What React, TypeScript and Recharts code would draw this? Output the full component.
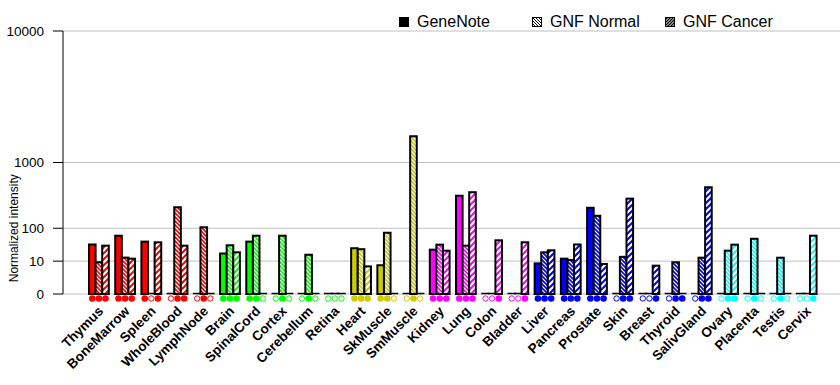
import { Bar, BarChart, CartesianGrid, Legend, XAxis, YAxis } from "recharts";

const tissues = [
  "Thymus", "BoneMarrow", "Spleen", "WholeBlood", "LymphNode",
  "Brain", "SpinalCord", "Cortex", "Cerebellum", "Retina",
  "Heart", "SkMuscle", "SmMuscle",
  "Kidney", "Lung", "Colon", "Bladder",
  "Liver", "Pancreas", "Prostate", "Skin", "Breast", "Thyroid", "SalivGland",
  "Ovary", "Placenta", "Testis", "Cervix",
];

const geneNote = [39, 67, 47, 0, 0, 20, 47, 0, 0, 0, 30, 6.4, 0, 27, 380, 0, 0, 7.9, 12.7, 246, 0, 0, 0, 0, 0, 0, 0, 0];
const gnfNormal = [8.9, 14, 0, 251, 105, 37, 67, 67, 18, 0, 28, 79, 1830, 38.5, 36, 0, 0, 22, 11.2, 178, 15, 0, 8.9, 13.9, 25, 56, 13.9, 0];
const gnfCancer = [36, 12.7, 45, 36, 0, 22, 0, 0, 0, 0, 5.6, 0, 0, 25, 427, 51, 45, 25.7, 39, 7.4, 344, 6.1, 0, 500, 38.5, 0, 0, 67];

// present calls (filled marker) per tissue: GeneNote, GNF Normal, GNF Cancer
const presentCalls = [
  "111", "111", "101", "011", "010",
  "111", "110", "010", "010", "000",
  "111", "110", "010",
  "111", "111", "001", "001",
  "111", "111", "111", "011", "001", "011", "011",
  "011", "010", "010", "001",
];

const tissueGroup = [
  "blood", "blood", "blood", "blood", "blood",
  "nerve", "nerve", "nerve", "nerve", "nerve",
  "muscle", "muscle", "muscle",
  "organ", "organ", "organ", "organ",
  "gland", "gland", "gland", "gland", "gland", "gland", "gland",
  "repro", "repro", "repro", "repro",
];

const groupColors: Record<string, string> = {
  blood: "#ff0000",
  nerve: "#00ff00",
  muscle: "#cccc00",
  organ: "#ff00ff",
  gland: "#0000ff",
  repro: "#00ffff",
};

const yTickValues = [0, 1, 10, 100, 1000, 10000];

const FONT = "'Liberation Sans', Arial, sans-serif";

// each decade takes twice the height of the previous one: v -> 2^log10(v)
const toScale = (v: number) => (v <= 0 ? 0 : Math.pow(v, Math.log10(2)));
const fromScale = (t: number) => (t <= 0 ? 0 : Math.round(Math.pow(10, Math.log2(t))));

const chartData = tissues.map((name, i) => ({
  name,
  group: tissueGroup[i],
  calls: presentCalls[i],
  geneNote: toScale(geneNote[i]),
  gnfNormal: toScale(gnfNormal[i]),
  gnfCancer: toScale(gnfCancer[i]),
}));

function makeShape(series: number) {
  return (props: any) => {
    const { x, y, width, height, payload } = props;
    const color = groupColors[payload.group];
    const fill = series === 0 ? color : `url(#${series === 1 ? "hn" : "hc"}-${payload.group})`;
    const base = y + height;
    const cx = x + width / 2;
    const present = payload.calls[series] === "1";
    return (
      <g>
        {height > 0.5 ? (
          <rect x={x} y={y} width={width} height={height} fill={fill} stroke="#000" strokeWidth={2} />
        ) : (
          <line x1={x - 1} x2={x + width + 1} y1={base - 0.5} y2={base - 0.5} stroke="#000" strokeWidth={1.5} />
        )}
        {present ? (
          <circle cx={cx} cy={base + 4.5} r={3.3} fill={color} />
        ) : (
          <circle cx={cx} cy={base + 4.5} r={2.7} fill="#fff" stroke={color} strokeWidth={1} />
        )}
      </g>
    );
  };
}

function TissueTick({ x, y, payload }: any) {
  return (
    <text
      transform={`translate(${x + 5},${y + 18}) rotate(-45)`}
      textAnchor="end"
      fontSize={13.5}
      fontWeight="bold"
      fontFamily={FONT}
      fill="#000"
    >
      {payload.value}
    </text>
  );
}

function YLabel({ viewBox }: any) {
  const cx = viewBox.x + 14;
  const cy = viewBox.y + viewBox.height * 0.75;
  return (
    <text
      x={cx}
      y={cy}
      transform={`rotate(-90 ${cx} ${cy})`}
      textAnchor="middle"
      dominantBaseline="central"
      fontSize={12}
      fontFamily={FONT}
      fill="#000"
    >
      Normalized intensity
    </text>
  );
}

function LegendIcon({ kind }: { kind: number }) {
  return (
    <svg width={10} height={10} style={{ marginRight: 8 }}>
      <rect x={0.5} y={0.5} width={9} height={9} fill={kind === 0 ? "#000" : `url(#lg${kind})`} stroke="#000" />
    </svg>
  );
}

function ChartLegend() {
  const items = ["GeneNote", "GNF Normal", "GNF Cancer"];
  return (
    <div style={{ display: "flex", fontFamily: FONT, fontSize: 16, color: "#000" }}>
      <svg width={0} height={0} style={{ position: "absolute" }}>
        <defs>
          <pattern id="lg1" width="3" height="3" patternUnits="userSpaceOnUse">
            <rect width="3" height="3" fill="#fff" />
            <path d="M-1,-1 L4,4 M-1,2 L1,4 M2,-1 L4,1" stroke="#000" strokeWidth="1" />
          </pattern>
          <pattern id="lg2" width="3" height="3" patternUnits="userSpaceOnUse">
            <rect width="3" height="3" fill="#fff" />
            <path d="M-1,4 L4,-1 M-1,1 L1,-1 M2,4 L4,2" stroke="#000" strokeWidth="1.4" />
          </pattern>
        </defs>
      </svg>
      {items.map((label, i) => (
        <div key={label} style={{ width: 133, display: "flex", alignItems: "center" }}>
          <LegendIcon kind={i} />
          <span>{label}</span>
        </div>
      ))}
    </div>
  );
}

export default function App() {
  return (
    <div style={{ position: "absolute", left: 0, top: 0, width: 840, height: 385, background: "#fff" }}>
      <BarChart
        width={840}
        height={385}
        data={chartData}
        margin={{ top: 31, right: 0, bottom: 0, left: 0 }}
        barGap={0}
        barSize={6.6}
      >
        <defs>
          {Object.keys(groupColors).map((g) => (
            <pattern key={`hn-${g}`} id={`hn-${g}`} width="4" height="4" patternUnits="userSpaceOnUse">
              <rect width="4" height="4" fill={groupColors[g]} />
              <path d="M-1,-1 L5,5 M-1,3 L1,5 M3,-1 L5,1" stroke="#fff" strokeWidth="1.2" />
            </pattern>
          ))}
          {Object.keys(groupColors).map((g) => (
            <pattern key={`hc-${g}`} id={`hc-${g}`} width="6" height="6" patternUnits="userSpaceOnUse">
              <rect width="6" height="6" fill={groupColors[g]} />
              <path d="M-1,7 L7,-1 M-1,1 L1,-1 M5,7 L7,5" stroke="#fff" strokeWidth="2.2" />
            </pattern>
          ))}
        </defs>
        <CartesianGrid vertical={false} stroke="#c0c0c0" />
        <XAxis
          dataKey="name"
          interval={0}
          axisLine={false}
          tickLine={false}
          tickSize={0}
          tickMargin={0}
          height={91}
          padding={{ left: 23, right: 20 }}
          tick={<TissueTick />}
        />
        <YAxis
          type="number"
          domain={[0, 16]}
          ticks={yTickValues.map(toScale)}
          tickFormatter={(v: number) => String(fromScale(v))}
          width={63}
          axisLine={{ stroke: "#000" }}
          tickLine={{ stroke: "#000" }}
          tickSize={10}
          tickMargin={9}
          tick={{ fill: "#000", fontSize: 13.5, fontFamily: FONT }}
          label={<YLabel />}
        />
        <Legend
          verticalAlign="middle"
          align="center"
          content={<ChartLegend />}
          wrapperStyle={{ top: 13, left: 399, width: 420 }}
        />
        <Bar dataKey="geneNote" name="GeneNote" fill="#000" shape={makeShape(0)} isAnimationActive={false} />
        <Bar dataKey="gnfNormal" name="GNF Normal" fill="#000" shape={makeShape(1)} isAnimationActive={false} />
        <Bar dataKey="gnfCancer" name="GNF Cancer" fill="#000" shape={makeShape(2)} isAnimationActive={false} />
      </BarChart>
    </div>
  );
}
